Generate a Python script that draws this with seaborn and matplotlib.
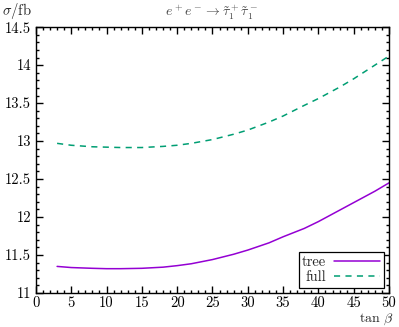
import numpy as np
import pandas as pd
import seaborn as sns
import matplotlib.pyplot as plt
from matplotlib.ticker import MultipleLocator, FuncFormatter

# values
tan_beta = [3, 5, 8, 10, 12, 15, 18, 20, 22, 25, 28, 30, 33, 35, 38, 40, 43, 45, 48, 50]
sigma_tree = [11.35, 11.335, 11.325, 11.32, 11.32, 11.325, 11.34, 11.36, 11.385, 11.44,
              11.51, 11.565, 11.66, 11.74, 11.85, 11.94, 12.09, 12.19, 12.34, 12.45]
sigma_full = [12.97, 12.945, 12.925, 12.92, 12.915, 12.915, 12.93, 12.945, 12.97, 13.02,
              13.09, 13.145, 13.25, 13.33, 13.47, 13.56, 13.71, 13.82, 14.0, 14.12]
series = ['tree', 'full']

df = pd.DataFrame({
    'tanb': tan_beta * 2,
    'sigma': sigma_tree + sigma_full,
    'kind': ['tree'] * len(tan_beta) + ['full'] * len(tan_beta),
})

sns.set_style('ticks')
plt.rcParams['font.family'] = ['cmr10', 'DejaVu Serif']
plt.rcParams['mathtext.fontset'] = 'cm'
plt.rcParams['axes.formatter.use_mathtext'] = True

fig = plt.figure(figsize=(3.99, 3.27), dpi=100)
ax = fig.add_axes([0.090, 0.104, 0.885, 0.813])

sns.lineplot(data=df, x='tanb', y='sigma', hue='kind', style='kind',
             hue_order=series, style_order=series,
             palette={'tree': '#9400d3', 'full': '#009e73'},
             dashes={'tree': '', 'full': (4, 3.5)},
             linewidth=1.1, ax=ax)

ax.set_xlim(0, 50)
ax.set_ylim(11, 14.5)
ax.xaxis.set_major_locator(MultipleLocator(5))
ax.xaxis.set_minor_locator(MultipleLocator(1))
ax.yaxis.set_major_locator(MultipleLocator(0.5))
ax.yaxis.set_minor_locator(MultipleLocator(0.1))
fmt = FuncFormatter(lambda v, p: '%g' % round(v, 2))
ax.xaxis.set_major_formatter(fmt)
ax.yaxis.set_major_formatter(fmt)
ax.tick_params(which='both', direction='in', top=True, right=True,
               labelsize=10.5, colors='black', width=1.0)
ax.tick_params(which='major', length=5, pad=3.5)
ax.tick_params(axis='x', which='major', pad=2.5)
ax.tick_params(which='minor', length=2.5)
for s in ax.spines.values():
    s.set_visible(True)
    s.set_linewidth(1.0)
    s.set_color('black')

ax.set_xlabel('')
ax.set_ylabel('')
fig.text(0.004, 0.997, r'$\sigma/\mathrm{fb}$', fontsize=10.5, va='top', ha='left')
fig.text(0.985, 0.0, r'$\tan\,\beta$', fontsize=10, va='bottom', ha='right')
fig.text(0.53, 0.99, r'$e^+e^-\to\tilde{\tau}_1^+\tilde{\tau}_1^-$',
         fontsize=10, va='top', ha='center', color='#444444')

leg = ax.legend(loc='lower right', markerfirst=False, frameon=True, fancybox=False,
                edgecolor='black', framealpha=1, fontsize=10.5, handlelength=3.2,
                borderpad=0.25, labelspacing=0.1, handletextpad=0.5,
                borderaxespad=0.35)
leg.get_frame().set_linewidth(0.9)

fig.savefig('out.png', dpi=100)
